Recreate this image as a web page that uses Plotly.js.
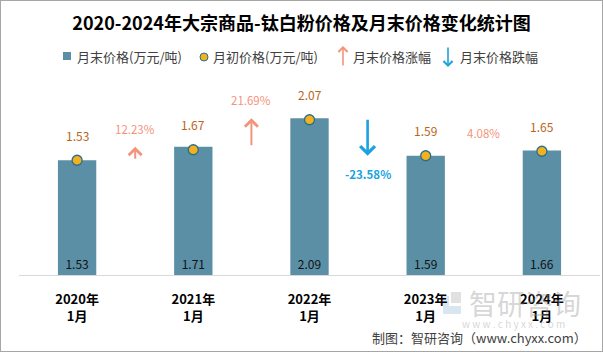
<!DOCTYPE html>
<html>
<head>
<meta charset="utf-8">
<script src="https://cdn.plot.ly/plotly-3.0.1.min.js"></script>
<style>
  html, body { margin: 0; padding: 0; background: #fff; }
  #wrap { position: relative; width: 603px; height: 352px; }
  #chart { width: 603px; height: 352px; }
  #frame { position: absolute; left: 0; top: 0; width: 603px; height: 352px; box-sizing: border-box; border: 1px solid #a6a6a6; pointer-events: none; }
</style>
</head>
<body>
<div id="wrap"><div id="chart"></div><div id="frame"></div></div>
<script>
// ---- data ----
const years = ['2020年', '2021年', '2022年', '2023年', '2024年'];
const months = ['1月', '1月', '1月', '1月', '1月'];
const endPrice = [1.53, 1.71, 2.09, 1.59, 1.66];     // 月末价格(万元/吨)
const startPrice = [1.53, 1.67, 2.07, 1.59, 1.65];   // 月初价格(万元/吨)
const changePct = ['12.23%', '21.69%', '-23.58%', '4.08%']; // 月末价格涨跌幅

// ---- styling ----
const FONT = '"Noto Sans CJK SC", "Noto Sans", sans-serif';
const W = 603, H = 352;
const M = { l: 19, r: 3, t: 83, b: 77 };
const plotW = W - M.l - M.r, plotH = H - M.t - M.b;
const px2x = p => (p - M.l) / plotW;
const py2y = p => (H - M.b - p) / plotH;
const barColor = '#5b8fa6';
const upColor = '#f4937c';
const downColor = '#1aa3e0';
const idx = years.map((_, i) => i);

const traces = [
  {
    type: 'bar', x: idx, y: endPrice, width: 0.33,
    marker: { color: barColor },
    text: endPrice.map(v => v.toFixed(2)),
    textposition: 'inside', insidetextanchor: 'start', textangle: 0,
    textfont: { family: FONT, size: 12, color: '#111' },
    hoverinfo: 'skip', showlegend: false
  },
  {
    type: 'scatter', mode: 'markers', x: idx, y: startPrice,
    marker: { size: 10, color: '#f2b11f', line: { color: '#2b6e8c', width: 1.3 } },
    hoverinfo: 'skip', showlegend: false
  }
];

const annotations = [];
// watermark (drawn first so it sits below the other texts)
annotations.push({
  x: px2x(525), y: py2y(303), xref: 'paper', yref: 'paper', xanchor: 'center', yanchor: 'middle',
  text: '智研咨询', showarrow: false,
  font: { family: FONT, size: 28, color: 'rgba(150,150,150,0.4)' }
});
annotations.push({
  x: px2x(513), y: py2y(323), xref: 'paper', yref: 'paper', xanchor: 'center', yanchor: 'middle',
  text: 'w w w . c h y x x . c o m', showarrow: false,
  font: { family: FONT, size: 10, color: 'rgba(150,150,150,0.4)' }
});
// month-start labels
startPrice.forEach((v, i) => {
  annotations.push({
    x: i, y: v, xref: 'x', yref: 'y', text: v.toFixed(2), showarrow: false,
    yshift: 25, font: { family: FONT, size: 12, color: '#b8651b' }
  });
});
// change arrows between bars (from one month-end price to the next)
changePct.forEach((t, i) => {
  const up = !t.startsWith('-');
  const col = up ? upColor : downColor;
  annotations.push({
    x: i + 0.5, y: endPrice[i + 1], ax: i + 0.5, ay: endPrice[i],
    xref: 'x', yref: 'y', axref: 'x', ayref: 'y', text: '', showarrow: true,
    arrowhead: 4, arrowsize: up ? 1.25 : 1.1, arrowwidth: up ? 2 : 2.6, arrowcolor: col, standoff: 0
  });
  annotations.push({
    x: i + 0.5, y: endPrice[i + 1], xref: 'x', yref: 'y', text: up ? t : '<b>' + t + '</b>',
    showarrow: false, yshift: up ? 18 : -18,
    font: { family: FONT, size: 11.5, color: col }
  });
});
// legend (manual)
const legendItems = [
  { px: 75, text: '月末价格(万元/吨)' },
  { px: 211, text: '月初价格(万元/吨)' },
  { px: 351, text: '月末价格涨幅' },
  { px: 458, text: '月末价格跌幅' }
];
legendItems.forEach(it => annotations.push({
  x: px2x(it.px), y: py2y(56), xref: 'paper', yref: 'paper', xanchor: 'left', yanchor: 'middle',
  text: it.text, showarrow: false, font: { family: FONT, size: 13, color: '#404040' }
}));
annotations.push({
  x: px2x(343), y: py2y(46), xref: 'paper', yref: 'paper', ax: 0, ay: 21, text: '',
  showarrow: true, arrowhead: 4, arrowsize: 1.1, arrowwidth: 1.6, arrowcolor: upColor, standoff: 0
});
annotations.push({
  x: px2x(448), y: py2y(67), xref: 'paper', yref: 'paper', ax: 0, ay: -21, text: '',
  showarrow: true, arrowhead: 4, arrowsize: 1.1, arrowwidth: 1.6, arrowcolor: downColor, standoff: 0
});
// credit
annotations.push({
  x: px2x(589), y: py2y(337), xref: 'paper', yref: 'paper', xanchor: 'right', yanchor: 'middle',
  text: '制图：智研咨询（www.chyxx.com）', showarrow: false,
  font: { family: FONT, size: 13, color: '#404040' }
});

const pxRect = (x0, x1, y0, y1, color) => ({
  type: 'rect', xref: 'paper', yref: 'paper', layer: 'below',
  x0: px2x(x0), x1: px2x(x1), y0: py2y(y1), y1: py2y(y0),
  fillcolor: color, line: { width: 0 }
});

const shapes = [
  { type: 'rect', xref: 'paper', yref: 'paper', xsizemode: 'pixel', ysizemode: 'pixel',
    xanchor: px2x(67), yanchor: py2y(56), x0: -4, x1: 4, y0: -4, y1: 4,
    fillcolor: barColor, line: { width: 0 } },
  { type: 'circle', xref: 'paper', yref: 'paper', xsizemode: 'pixel', ysizemode: 'pixel',
    xanchor: px2x(204), yanchor: py2y(57), x0: -4, x1: 4, y0: -4, y1: 4,
    fillcolor: '#f2b11f', line: { color: '#2b6e8c', width: 1 } },
  // watermark logo (approximate)
  pxRect(443, 449, 296, 314, 'rgba(170,200,225,0.45)'),
  pxRect(449, 461, 306, 314, 'rgba(170,200,225,0.45)'),
  pxRect(451, 461, 292, 303, 'rgba(170,170,170,0.35)')
];

const layout = {
  width: W, height: H, margin: M,
  paper_bgcolor: '#fff', plot_bgcolor: '#fff',
  font: { family: FONT },
  title: {
    text: '2020-2024年大宗商品-钛白粉价格及月末价格变化统计图',
    xref: 'container', x: 0.5, yref: 'container', y: 1 - 24 / H, yanchor: 'middle',
    font: { family: FONT, size: 18, weight: 'bold', color: '#000' }
  },
  xaxis: {
    type: 'linear', range: [-0.5, 4.5], tickvals: idx,
    ticktext: years.map((y, i) => '<b>' + y + '<br>' + months[i] + '</b>'),
    tickfont: { family: FONT, size: 13, color: '#000' },
    showline: true, linecolor: '#d9d9d9', linewidth: 1,
    showgrid: false, zeroline: false, ticks: '', ticklabelstandoff: 12, fixedrange: true
  },
  yaxis: { range: [0, plotH / 75], visible: false, fixedrange: true },
  showlegend: false,
  annotations: annotations,
  shapes: shapes
};

Plotly.newPlot('chart', traces, layout, { displayModeBar: false, staticPlot: true });
</script>
</body>
</html>
